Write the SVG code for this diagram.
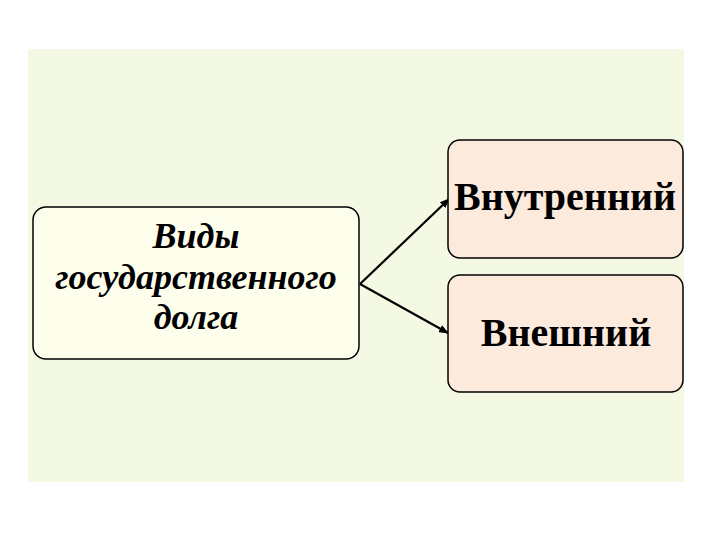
<svg xmlns="http://www.w3.org/2000/svg" width="720" height="540" viewBox="0 0 720 540">
<style>
.box{stroke:#000;stroke-width:1.5}
.lt{font-family:"Liberation Serif",serif;font-weight:bold;font-style:italic;font-size:36px;fill:#000;text-anchor:middle}
.rt{font-family:"Liberation Serif",serif;font-weight:bold;font-size:40px;fill:#000;text-anchor:middle}
.con{stroke:#000;stroke-width:2.2;fill:none}
</style>
<defs>
<marker id="ah" markerWidth="10" markerHeight="8" refX="9" refY="4" orient="auto" markerUnits="userSpaceOnUse">
<path d="M0,0 L10,4 L0,8 Z" fill="#000"/>
</marker>
</defs>
<rect x="0" y="0" width="720" height="540" fill="#fff"/>
<rect x="28" y="49" width="656" height="433" fill="#F4F9E4"/>
<g id="connectors">
<line class="con" x1="360" y1="284" x2="449" y2="199" marker-end="url(#ah)"/>
<line class="con" x1="360" y1="284" x2="448" y2="333" marker-end="url(#ah)"/>
</g>
<g id="node-types">
<rect class="box" x="33" y="207" width="326" height="152" rx="13" fill="#FEFEEC"/>
<text class="lt" x="196" y="248">Виды</text>
<text class="lt" x="196" y="289">государственного</text>
<text class="lt" x="196" y="329">долга</text>
</g>
<g id="node-internal">
<rect class="box" x="448" y="140" width="235" height="118" rx="12" fill="#FCEADC"/>
<text class="rt" x="565" y="210">Внутренний</text>
</g>
<g id="node-external">
<rect class="box" x="448" y="275" width="235" height="117" rx="12" fill="#FCEADC"/>
<text class="rt" x="566" y="346">Внешний</text>
</g>
</svg>
